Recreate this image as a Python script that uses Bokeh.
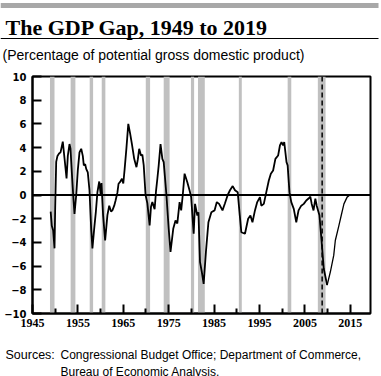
from bokeh.plotting import figure
from bokeh.layouts import column
from bokeh.models import Span, FixedTicker, ColumnDataSource, Range1d
from bokeh.core.properties import value
from bokeh.embed import file_html
from bokeh.resources import INLINE

# ---- data ----
years = [1949.0, 1949.25, 1949.55, 1949.85, 1950.0, 1950.22, 1950.5, 1950.85, 1951.17, 1951.4,
         1951.67, 1952.05, 1952.5, 1952.78, 1953.15, 1953.37, 1953.74, 1954.03, 1954.25, 1954.63,
         1954.98, 1955.35, 1955.73, 1956.08, 1956.3, 1956.6, 1956.83, 1957.18, 1957.55, 1957.93,
         1958.2, 1958.6, 1958.95, 1959.3, 1959.7, 1960.0, 1960.2, 1960.55, 1961.0, 1961.5,
         1961.9, 1962.3, 1962.6, 1963.0, 1963.3, 1963.7, 1963.95, 1964.3, 1964.7, 1965.0,
         1965.3, 1965.7, 1966.1, 1966.5, 1966.9, 1967.4, 1967.9, 1968.2, 1968.5, 1968.9,
         1969.2, 1969.5, 1969.9, 1970.3, 1970.8, 1971.1, 1971.4, 1971.9, 1972.2, 1972.5,
         1972.8, 1973.2, 1973.6, 1973.9, 1974.5, 1975.0, 1975.4, 1976.0, 1976.5, 1976.9,
         1977.4, 1977.75, 1978.1, 1978.5, 1979.1, 1979.6, 1979.95, 1980.5, 1980.8, 1981.3,
         1981.55, 1981.9, 1982.3, 1982.7, 1983.2, 1983.75, 1984.4, 1985.1, 1985.6, 1986.1,
         1986.85, 1987.4, 1988.0, 1988.5, 1989.1, 1989.6, 1990.2, 1990.65, 1991.0, 1991.8,
         1992.5, 1993.0, 1993.45, 1994.0, 1994.5, 1995.1, 1995.4, 1995.95, 1996.5, 1997.05,
         1997.5, 1998.0, 1998.5, 1999.1, 1999.5, 1999.85, 2000.2, 2000.45, 2000.95, 2001.2,
         2001.6, 2002.0, 2002.55, 2003.1, 2003.6, 2004.2, 2004.75, 2005.3, 2005.8, 2006.2,
         2006.5, 2006.9, 2007.3, 2007.6, 2008.2, 2008.7, 2009.15, 2009.9, 2010.6, 2011.35,
         2011.7, 2012.5, 2013.0, 2013.6, 2014.3, 2014.9, 2019.0]
gap = [-1.4, -2.6, -3.0, -4.5, -1.0, 2.8, 3.3, 3.5, 3.6, 4.0,
       4.5, 3.1, 1.4, 3.3, 4.3, 3.9, 1.4, -0.4, -1.6, 0.0,
       2.1, 3.6, 3.9, 3.3, 2.5, 2.6, 2.2, 1.9, 0.4, -2.9,
       -4.5, -2.8, -1.45, 0.24, 1.14, 0.1, 1.0, -1.7, -3.84, -1.7,
       -0.9, -1.4, -1.3, -0.9, -0.46, 0.2, 0.95, 1.1, 1.37, 0.97,
       2.2, 4.0, 6.0, 5.2, 4.3, 3.05, 2.35, 3.0, 3.9, 3.33,
       3.4, 2.5, 0.0, -0.7, -2.57, -1.0, -0.6, -1.2, 0.3, 1.37,
       2.5, 4.3, 3.05, 2.77, 0.0, -2.85, -4.8, -2.85, -2.15, -2.4,
       -0.6, -1.3, 0.0, 1.8, 1.08, 0.38, -0.18, -3.27, -0.75, -1.73,
       -1.45, -5.67, -6.5, -7.5, -4.8, -2.3, -1.45, -1.3, -0.6, -0.75,
       -1.3, -0.7, 0.0, 0.4, 0.75, 0.4, 0.24, -1.7, -3.14, -3.27,
       -2.0, -1.73, -2.3, -1.3, -0.6, -0.18, -0.9, -0.75, 0.24, 1.22,
       1.8, 2.07, 3.05, 3.33, 4.18, 4.46, 4.18, 4.46, 2.77, 2.5,
       0.24, -0.6, -1.17, -2.3, -1.3, -0.9, -0.75, -0.46, -0.3, -0.13,
       -0.75, -1.3, -0.3, -0.9, -1.7, -4.0, -6.2, -7.6, -6.5, -5.1,
       -3.84, -2.57, -1.73, -0.75, -0.18, 0.0, 0.0]

rec_start = [1948.85, 1953.4, 1957.6, 1960.25, 1969.95, 1973.9, 1979.9, 1981.45, 1990.45, 2001.2, 2007.85]
rec_end = [1949.85, 1954.45, 1958.35, 1961.05, 1970.9, 1975.2, 1980.6, 1982.95, 1991.1, 2002.0, 2009.55]

projection_start = 2008.8
trough_year = 2009.9

x_ticks = [1945, 1955, 1965, 1975, 1985, 1995, 2005, 2015]
x_minor_ticks = [1950, 1960, 1970, 1980, 1990, 2000, 2010]
y_ticks = [-10, -8, -6, -4, -2, 0, 2, 4, 6, 8, 10]

title_text = "The GDP Gap, 1949 to 2019"
subtitle_text = "(Percentage of potential gross domestic product)"
source_head = "Sources:"
source_lines = ["Congressional Budget Office; Department of Commerce,",
                "Bureau of Economic Analysis."]

W = 381
HDR_H, MAIN_H, FTR_H = 64, 272, 40


def blank(height):
    f = figure(width=W, height=height, x_range=Range1d(0, W), y_range=Range1d(height, 0),
               toolbar_location=None, output_backend="svg", title=None,
               x_axis_type=None, y_axis_type=None,
               min_border=0, min_border_left=0, min_border_right=0,
               min_border_top=0, min_border_bottom=0,
               outline_line_color=None, frame_align=False)
    f.background_fill_color = "white"
    f.border_fill_color = "white"
    return f


# ---- header ----
hdr = blank(HDR_H)
hdr.quad(left=[0], right=[378], top=[2.5], bottom=[7.5], fill_color="#a8a8a8", line_color=None)
hdr.quad(left=[0], right=[378], top=[37.5], bottom=[38.6], fill_color="black", line_color=None)
hdr.text(x=[5], y=[27], text=[title_text], text_font=value("Liberation Serif"),
         text_font_style="bold", text_font_size="22px", text_color="black",
         text_baseline="alphabetic")
hdr.text(x=[2], y=[54.5], text=[subtitle_text], text_font=value("Liberation Sans"),
         text_font_size="14px", text_color="black", text_baseline="alphabetic")

# ---- main chart ----
p = figure(width=W, height=MAIN_H, x_range=(1945, 2019.45), y_range=(-10, 10),
           toolbar_location=None, output_backend="svg", title=None,
           min_border_left=32, min_border_right=11,
           min_border_top=12, min_border_bottom=23, frame_align=False)
p.background_fill_color = "white"
p.border_fill_color = "white"
p.outline_line_color = "black"
p.outline_line_width = 2
p.xgrid.visible = False
p.ygrid.visible = False

rec_src = ColumnDataSource(dict(left=rec_start, right=rec_end,
                                bottom=[-10] * len(rec_start), top=[10] * len(rec_start)))
p.quad(left="left", right="right", bottom="bottom", top="top", source=rec_src,
       fill_color="#c0c0c0", line_color=None)

split = years.index(trough_year)
p.line(years[:split + 1], gap[:split + 1], line_color="black", line_width=1.8)
p.line(years[split:], gap[split:], line_color="black", line_width=1.3)

p.add_layout(Span(location=0, dimension="width", line_color="black", line_width=2))
p.add_layout(Span(location=projection_start, dimension="height", line_color="black",
                  line_width=1.5, line_dash="5 3"))

xa = p.xaxis[0]
xa.ticker = FixedTicker(ticks=x_ticks, minor_ticks=x_minor_ticks)
xa.major_tick_in = 9
xa.major_tick_out = 0
xa.minor_tick_in = 5
xa.minor_tick_out = 0
xa.major_tick_line_width = 2
xa.minor_tick_line_width = 2
xa.axis_line_width = 2
xa.major_label_standoff = 5
xa.major_label_text_font = "Liberation Serif"
xa.major_label_text_font_style = "bold"
xa.major_label_text_font_size = "12px"
xa.major_label_text_color = "black"

ya = p.yaxis[0]
ya.ticker = FixedTicker(ticks=y_ticks)
ya.major_tick_in = 9
ya.major_tick_out = 0
ya.minor_tick_in = 0
ya.minor_tick_out = 0
ya.major_tick_line_width = 2
ya.axis_line_width = 2
ya.major_label_standoff = 6
ya.major_label_text_font = "DejaVu Sans"
ya.major_label_text_font_style = "bold"
ya.major_label_text_font_size = "10px"
ya.major_label_text_color = "black"

# ---- footer ----
ftr = blank(FTR_H)
ftr.text(x=[5], y=[18], text=[source_head], text_font=value("Liberation Sans"),
         text_font_size="12.5px", text_color="black", text_baseline="alphabetic")
ftr.text(x=[60, 60], y=[18, 35], text=source_lines, text_font=value("Liberation Sans"),
         text_font_size="12px", text_color="black", text_baseline="alphabetic")

layout = column(hdr, p, ftr, spacing=0)
open("out.html", "w").write(file_html(layout, INLINE))
